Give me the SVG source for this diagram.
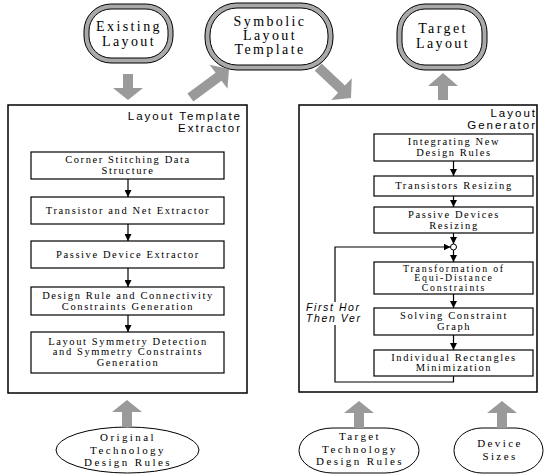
<svg xmlns="http://www.w3.org/2000/svg" width="544" height="474" viewBox="0 0 544 474">
<style>
.bg{fill:#fff}
.band{fill:#a9a9a9;stroke:#000;stroke-width:1}
.inner{fill:#fff;stroke:#000;stroke-width:1}
.oval{fill:#fff;stroke:#000;stroke-width:1}
.frame{fill:#fff;stroke:#000;stroke-width:1.5}
.box{fill:#fff;stroke:#000;stroke-width:1.2}
.garrow{fill:#9a9a9a;stroke:none}
.line{fill:none;stroke:#000;stroke-width:1.2}
.t16{font-family:"Liberation Serif","Times New Roman",serif;font-size:14px;letter-spacing:2.4px;text-anchor:middle;fill:#000}
.t14{font-family:"Liberation Serif","Times New Roman",serif;font-size:11px;letter-spacing:2.4px;text-anchor:middle;fill:#000}
.t12{font-family:"Liberation Serif","Times New Roman",serif;font-size:10.5px;letter-spacing:1.6px;text-anchor:middle;fill:#000}
.t12s{font-family:"Liberation Serif","Times New Roman",serif;font-size:9.8px;letter-spacing:1.8px;text-anchor:middle;fill:#000}
.title{font-family:"Liberation Sans",Arial,sans-serif;font-size:11.5px;letter-spacing:2px;text-anchor:end;fill:#000}
.ital{font-family:"Liberation Sans",Arial,sans-serif;font-size:10.5px;font-style:italic;letter-spacing:1.6px;fill:#000}
</style>
<defs>
<marker id="ah" viewBox="0 0 8 8" refX="8" refY="4" markerWidth="7" markerHeight="7" markerUnits="userSpaceOnUse" orient="auto">
<path d="M0,0 L8,4 L0,8 z" fill="#000"/>
</marker>
</defs>
<rect class="bg" x="0" y="0" width="544" height="474"/>

<g id="existing-layout">
<rect class="band" x="84" y="4" width="89" height="59" rx="27" ry="27"/>
<rect class="inner" x="89" y="9" width="79" height="49" rx="22" ry="22"/>
<text class="t16" x="129" y="31">Existing</text>
<text class="t16" x="129" y="46">Layout</text>
</g>

<g id="symbolic-layout-template">
<rect class="band" x="205" y="3" width="128" height="67" rx="32" ry="32"/>
<rect class="inner" x="210" y="8" width="118" height="57" rx="27" ry="27"/>
<text class="t16" x="270" y="26">Symbolic</text>
<text class="t16" x="270" y="40">Layout</text>
<text class="t16" x="270" y="54">Template</text>
</g>

<g id="target-layout">
<rect class="band" x="397" y="4" width="90" height="66" rx="28" ry="28"/>
<rect class="inner" x="402" y="9" width="80" height="56" rx="23" ry="23"/>
<text class="t16" x="443" y="33">Target</text>
<text class="t16" x="443" y="48">Layout</text>
</g>

<g id="layout-template-extractor">
<rect class="frame" x="8" y="105" width="239" height="288"/>
<text class="title" x="242" y="120">Layout Template</text>
<text class="title" x="242" y="132">Extractor</text>
</g>

<g id="layout-generator">
<rect class="frame" x="299" y="105" width="238" height="287"/>
<text class="title" x="537" y="117">Layout</text>
<text class="title" x="537" y="129">Generator</text>
</g>

<g id="corner-stitching">
<rect class="box" x="31" y="152" width="193" height="27"/>
<text class="t12" x="128" y="163">Corner Stitching Data</text>
<text class="t12" x="128" y="173.5">Structure</text>
</g>
<g id="transistor-net-extractor">
<rect class="box" x="31" y="197" width="193" height="27"/>
<text class="t12" x="128" y="214">Transistor and Net Extractor</text>
</g>
<g id="passive-device-extractor">
<rect class="box" x="31" y="241" width="193" height="27"/>
<text class="t12" x="128" y="258">Passive Device Extractor</text>
</g>
<g id="design-rule-constraints">
<rect class="box" x="31" y="287" width="193" height="28"/>
<text class="t12" x="128" y="299">Design Rule and Connectivity</text>
<text class="t12" x="128" y="309.5">Constraints Generation</text>
</g>
<g id="symmetry-detection">
<rect class="box" x="31" y="332" width="193" height="41"/>
<text class="t12" x="128" y="344.5">Layout Symmetry Detection</text>
<text class="t12" x="128" y="355">and Symmetry Constraints</text>
<text class="t12" x="128" y="365.5">Generation</text>
</g>

<g id="integrating-design-rules">
<rect class="box" x="374" y="134" width="159" height="27"/>
<text class="t12" x="454" y="145">Integrating New</text>
<text class="t12" x="454" y="155.5">Design Rules</text>
</g>
<g id="transistors-resizing">
<rect class="box" x="374" y="176" width="159" height="20"/>
<text class="t12" x="454" y="189">Transistors Resizing</text>
</g>
<g id="passive-devices-resizing">
<rect class="box" x="374" y="207" width="159" height="26"/>
<text class="t12" x="454" y="218">Passive Devices</text>
<text class="t12" x="454" y="228.5">Resizing</text>
</g>
<g id="junction">
<circle cx="453.5" cy="247" r="3" fill="#fff" stroke="#000" stroke-width="1"/>
</g>
<g id="equi-distance">
<rect class="box" x="374" y="262" width="159" height="32"/>
<text class="t12s" x="454" y="271.5">Transformation of</text>
<text class="t12s" x="454" y="281">Equi-Distance</text>
<text class="t12s" x="454" y="290.5">Constraints</text>
</g>
<g id="solving-constraint-graph">
<rect class="box" x="374" y="308" width="159" height="27"/>
<text class="t12" x="454" y="319">Solving Constraint</text>
<text class="t12" x="454" y="329.5">Graph</text>
</g>
<g id="rectangles-minimization">
<rect class="box" x="374" y="350" width="159" height="26"/>
<text class="t12" x="454" y="360.5">Individual Rectangles</text>
<text class="t12" x="454" y="371">Minimization</text>
</g>
<g id="loop-label">
<text class="ital" x="306" y="310.5">First Hor</text>
<text class="ital" x="306" y="322">Then Ver</text>
</g>

<g id="original-design-rules">
<ellipse class="oval" cx="127.5" cy="450" rx="71.5" ry="23"/>
<text class="t14" x="128" y="441">Original</text>
<text class="t14" x="128" y="453.5">Technology</text>
<text class="t14" x="128" y="466">Design Rules</text>
</g>
<g id="target-design-rules">
<rect class="oval" x="299" y="428" width="120" height="45" rx="34" ry="22.5"/>
<text class="t14" x="360" y="440">Target</text>
<text class="t14" x="360" y="452.5">Technology</text>
<text class="t14" x="360" y="465">Design Rules</text>
</g>
<g id="device-sizes">
<rect class="oval" x="454" y="428" width="89" height="45" rx="28" ry="22.5"/>
<text class="t14" x="500" y="447">Device</text>
<text class="t14" x="500" y="459.5">Sizes</text>
</g>

<g id="connectors">
<polygon class="garrow" points="123,74 133,74 133,88 143,88 128,100 113,88 123,88"/>
<polygon class="garrow" points="438,100 448,100 448,86 458,86 443,73 428,86 438,86"/>
<polygon class="garrow" points="122,427 132,427 132,412 142,412 127,400 112,412 122,412"/>
<polygon class="garrow" points="354,428 364,428 364,413 374,413 359,401 344,413 354,413"/>
<polygon class="garrow" points="497,428 507,428 507,413 517,413 502,401 487,413 497,413"/>
<polygon class="garrow" points="0,0 15,13 5,13 5,48 -5,48 -5,13 -15,13" transform="translate(229,69) rotate(53.5)"/>
<polygon class="garrow" points="0,0 15,13 5,13 5,45 -5,45 -5,13 -15,13" transform="translate(351,98) rotate(133.2)"/>
<line class="line" x1="128" y1="179" x2="128" y2="197" marker-end="url(#ah)"/>
<line class="line" x1="128" y1="224" x2="128" y2="241" marker-end="url(#ah)"/>
<line class="line" x1="128" y1="268" x2="128" y2="287" marker-end="url(#ah)"/>
<line class="line" x1="128" y1="315" x2="128" y2="332" marker-end="url(#ah)"/>
<line class="line" x1="453.5" y1="161" x2="453.5" y2="176" marker-end="url(#ah)"/>
<line class="line" x1="453.5" y1="196" x2="453.5" y2="207" marker-end="url(#ah)"/>
<line class="line" x1="453.5" y1="233" x2="453.5" y2="244" marker-end="url(#ah)"/>
<line class="line" x1="453.5" y1="250" x2="453.5" y2="262" marker-end="url(#ah)"/>
<line class="line" x1="453.5" y1="294" x2="453.5" y2="308" marker-end="url(#ah)"/>
<line class="line" x1="453.5" y1="335" x2="453.5" y2="350" marker-end="url(#ah)"/>
<path class="line" d="M453.5,376 V382 H335 V325 M335,302 V247 H450.5" marker-end="url(#ah)"/>
</g>
</svg>
